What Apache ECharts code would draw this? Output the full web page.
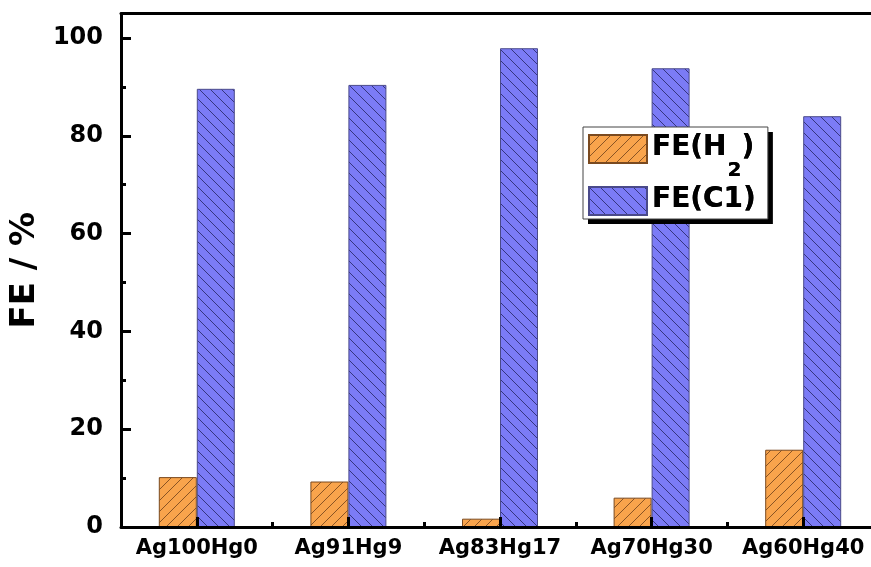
<!DOCTYPE html>
<html>
<head>
<meta charset="utf-8">
<script src="https://cdn.jsdelivr.net/npm/echarts@6/dist/echarts.min.js"></script>
<style>
  html, body { margin: 0; padding: 0; background: #fff; }
  #chart { width: 871px; height: 567px; }
</style>
</head>
<body>
<div id="chart"></div>
<script>
// Catalyst compositions
const categories = ['Ag100Hg0', 'Ag91Hg9', 'Ag83Hg17', 'Ag70Hg30', 'Ag60Hg40'];
// Faradaic efficiencies (%)
const feH2 = [10.2, 9.3, 1.7, 6.0, 15.8];
const feC1 = [89.6, 90.4, 97.9, 93.8, 84.0];
const seriesNames = ['FE(H2)', 'FE(C1)'];
const yTicks = [0, 20, 40, 60, 80, 100];

const FONT = 'DejaVu Sans';

// Diagonal hatch fill: dir 1 = "/" lines, dir -1 = "\" lines
function hatch(bg, line, dir) {
  const s = 11;
  const c = document.createElement('canvas');
  c.width = s; c.height = s;
  const g = c.getContext('2d');
  g.fillStyle = bg;
  g.fillRect(0, 0, s, s);
  g.strokeStyle = line;
  g.lineWidth = 1;
  g.beginPath();
  if (dir > 0) {
    g.moveTo(-1, s + 1); g.lineTo(s + 1, -1);
    g.moveTo(-1, 1); g.lineTo(1, -1);
    g.moveTo(s - 1, s + 1); g.lineTo(s + 1, s - 1);
  } else {
    g.moveTo(-1, -1); g.lineTo(s + 1, s + 1);
    g.moveTo(s - 1, -1); g.lineTo(s + 1, 1);
    g.moveTo(-1, s - 1); g.lineTo(1, s + 1);
  }
  g.stroke();
  return { image: c, repeat: 'repeat' };
}

const orangeFill = hatch('#F9A44C', '#8a5424', 1);
const blueFill = hatch('#7B7BF6', '#35357f', -1);

const chart = echarts.init(document.getElementById('chart'), null, { renderer: 'canvas' });

const axisLineStyle = { color: '#000', width: 3 };

const valueAxisBase = {
  type: 'value',
  position: 'left',
  min: 0,
  max: 105,
  splitLine: { show: false },
  axisLine: { show: true, lineStyle: axisLineStyle }
};

// Legend: name "FE(H2)" gets a lowered subscript "2"
function legendFormatter(name) {
  const m = name.match(/^(.*\()([A-Z]+)(\d)(\))$/);
  if (m && m[2] === 'H') {
    return '{t|' + m[1] + m[2] + '}{s|' + m[3] + '}{t|' + m[4] + '}';
  }
  return '{t|' + name + '}';
}

const legendBase = {
  orient: 'vertical',
  left: 583, top: 127,
  padding: [7, 12, 3, 5],
  itemWidth: 58, itemHeight: 28, itemGap: 5,
  icon: 'rect',
  data: seriesNames,
  formatter: legendFormatter,
  selectedMode: false,
  textStyle: {
    height: 30,
    rich: {
      t: { fontFamily: FONT, fontWeight: 'bold', fontSize: 28, lineHeight: 30, verticalAlign: 'top', color: '#000' },
      s: { fontFamily: FONT, fontWeight: 'bold', fontSize: 20, verticalAlign: 'top', color: '#000', padding: [27, 0, 0, 1] }
    }
  }
};

chart.setOption({
  animation: false,
  backgroundColor: '#fff',
  grid: {
    left: 121, right: -8, top: 13.5, bottom: 40,
    outerBoundsMode: 'none',
    containLabel: false
  },
  legend: [
    // white box with a solid drop shadow
    Object.assign({}, legendBase, {
      backgroundColor: '#fff', borderWidth: 0,
      shadowColor: '#000', shadowBlur: 0, shadowOffsetX: 5, shadowOffsetY: 5
    }),
    // thin frame drawn over the box
    Object.assign({}, legendBase, {
      backgroundColor: 'transparent', borderColor: '#444', borderWidth: 1
    })
  ],
  xAxis: [
    {
      type: 'category',
      position: 'bottom',
      data: categories,
      z: 5,
      axisLine: { show: true, lineStyle: axisLineStyle },
      axisTick: { show: true, inside: true, alignWithLabel: true, length: 10, lineStyle: { color: '#000', width: 3 } },
      axisLabel: { interval: 0, hideOverlap: false, fontFamily: FONT, fontWeight: 'bold', fontSize: 21, color: '#000', margin: 11 }
    },
    {
      type: 'category',
      position: 'bottom',
      data: categories,
      z: 5,
      axisLine: { show: false },
      axisTick: { show: true, inside: true, length: 5, lineStyle: { color: '#000', width: 3 } },
      axisLabel: { show: false }
    },
    {
      type: 'category',
      position: 'top',
      data: categories,
      axisLine: { show: true, lineStyle: axisLineStyle },
      axisTick: { show: false },
      axisLabel: { show: false }
    }
  ],
  yAxis: [
    Object.assign({}, valueAxisBase, {
      interval: 20,
      name: 'FE / %',
      nameLocation: 'middle',
      nameRotate: 90,
      nameGap: 73,
      nameTextStyle: { fontFamily: FONT, fontWeight: 'bold', fontSize: 34, color: '#000' },
      axisTick: { show: true, inside: true, length: 10, lineStyle: { color: '#000', width: 3 } },
      axisLabel: {
        fontFamily: FONT, fontWeight: 'bold', fontSize: 24, color: '#000', margin: 18,
        showMaxLabel: false,
        formatter: function (v) { return yTicks.indexOf(v) >= 0 ? String(v) : ''; }
      }
    }),
    Object.assign({}, valueAxisBase, {
      interval: 10,
      axisLine: { show: false },
      axisTick: { show: true, inside: true, length: 5, lineStyle: { color: '#000', width: 3 } },
      axisLabel: { show: false }
    })
  ],
  series: [
    {
      name: seriesNames[0],
      type: 'bar',
      data: feH2,
      barWidth: 38,
      barGap: '0%',
      itemStyle: { color: orangeFill, borderColor: '#7a4a20', borderWidth: 1 }
    },
    {
      name: seriesNames[1],
      type: 'bar',
      data: feC1,
      barWidth: 38,
      barGap: '0%',
      itemStyle: { color: blueFill, borderColor: '#4a4a8a', borderWidth: 1 }
    }
  ]
});
</script>
</body>
</html>
